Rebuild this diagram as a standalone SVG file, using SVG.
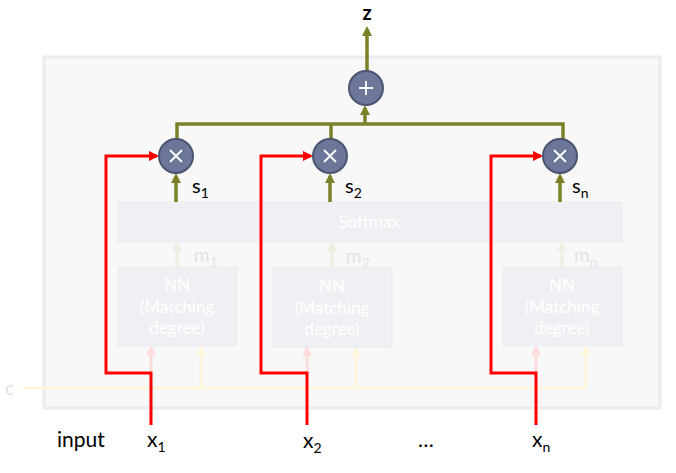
<svg xmlns="http://www.w3.org/2000/svg" width="676" height="473" viewBox="0 0 676 473">
<defs>
<style>
.t{font-family:"Lato","Open Sans","DejaVu Sans",sans-serif}
.lbl{font-size:20px;fill:#000}
.big{font-size:21px}
.sub{font-size:14px}
.faint{font-size:19px;fill:#e2e2e6}
.wt{font-size:17px;fill:#ffffff;text-anchor:middle}
.box{fill:#eff0f4;stroke:#ebecf0;stroke-width:1}
.circ{fill:#6c7799;stroke:#4b5470;stroke-width:2}
.ol{stroke:#7b8128;stroke-width:3.5;fill:none}
.red{stroke:#ff0000;stroke-width:3;fill:none}
.pink{stroke:#ffdcdc;stroke-width:3;fill:none}
.yel{stroke:#fdf5dc;stroke-width:3;fill:none}
.gy{stroke:#eeeee2;stroke-width:3;fill:none}
.sym{stroke:#ffffff;stroke-width:1.8;fill:none}
</style>
<marker id="aol" markerWidth="10" markerHeight="10" refX="7" refY="5" orient="auto" markerUnits="userSpaceOnUse"><path d="M0,0 L10,5 L0,10 z" fill="#7b8128"/></marker>
<marker id="ared" markerWidth="10" markerHeight="10" refX="8" refY="5" orient="auto" markerUnits="userSpaceOnUse"><path d="M0,0 L10,5 L0,10 z" fill="#ff0000"/></marker>
<marker id="apk" markerWidth="10" markerHeight="10" refX="7" refY="5" orient="auto" markerUnits="userSpaceOnUse"><path d="M0,0 L10,5 L0,10 z" fill="#ffdcdc"/></marker>
<marker id="ayl" markerWidth="10" markerHeight="10" refX="7" refY="5" orient="auto" markerUnits="userSpaceOnUse"><path d="M0,0 L10,5 L0,10 z" fill="#fdf5dc"/></marker>
<marker id="agy" markerWidth="10" markerHeight="10" refX="7" refY="5" orient="auto" markerUnits="userSpaceOnUse"><path d="M0,0 L10,5 L0,10 z" fill="#eeeee2"/></marker>
</defs>
<rect width="676" height="473" fill="#ffffff"/>
<g id="frame"><rect x="44" y="57" width="616" height="351" fill="#f8f8f8" stroke="#ebebf0" stroke-width="3"/></g>

<g id="softmax"><rect class="box" x="118" y="202" width="504" height="40"/><text class="t wt" x="369" y="228">Softmax</text></g>
<g id="nn1"><rect class="box" x="118" y="267" width="119" height="79"/><text class="t wt" x="177" y="291">NN</text><text class="t wt" x="177" y="313">(Matching</text><text class="t wt" x="177" y="334">degree)</text></g>
<g id="nn2"><rect class="box" x="273" y="268" width="119" height="79"/><text class="t wt" x="332" y="292">NN</text><text class="t wt" x="332" y="314">(Matching</text><text class="t wt" x="332" y="335">degree)</text></g>
<g id="nn3"><rect class="box" x="503" y="267" width="119" height="79"/><text class="t wt" x="562" y="291">NN</text><text class="t wt" x="562" y="313">(Matching</text><text class="t wt" x="562" y="334">degree)</text></g>

<g id="connectors">
<path class="yel" d="M23,388 H586"/>
<path class="yel" d="M201,388 V348" marker-end="url(#ayl)"/>
<path class="yel" d="M356,388 V349" marker-end="url(#ayl)"/>
<path class="yel" d="M586,388 V348" marker-end="url(#ayl)"/>
<path class="pink" d="M151,373 V348" marker-end="url(#apk)"/>
<path class="pink" d="M307,373 V349" marker-end="url(#apk)"/>
<path class="pink" d="M536,373 V348" marker-end="url(#apk)"/>
<path class="gy" d="M177,267 V244" marker-end="url(#agy)"/>
<path class="gy" d="M332,268 V244" marker-end="url(#agy)"/>
<path class="gy" d="M562,267 V244" marker-end="url(#agy)"/>
<path class="red" d="M151,425 V373 H106 V156 H157" marker-end="url(#ared)"/>
<path class="red" d="M307,425 V373 H261 V156 H311" marker-end="url(#ared)"/>
<path class="red" d="M536,425 V373 H491 V156 H541" marker-end="url(#ared)"/>
<path class="ol" d="M176,202 V176" marker-end="url(#aol)"/>
<path class="ol" d="M330,202 V176" marker-end="url(#aol)"/>
<path class="ol" d="M560,202 V176" marker-end="url(#aol)"/>
<path class="ol" d="M177,139 V124 H563 V139 M331,124 V139"/>
<path class="ol" d="M365,124 V108" marker-end="url(#aol)"/>
<path class="ol" d="M367,71 V29" marker-end="url(#aol)"/>
</g>

<g id="plus"><circle class="circ" cx="366" cy="88" r="17"/><path class="sym" d="M359,88 H373 M366,81 V95"/></g>
<g id="mul1"><circle class="circ" cx="176" cy="156" r="17"/><path class="sym" d="M170,150 L182,162 M182,150 L170,162"/></g>
<g id="mul2"><circle class="circ" cx="330" cy="156" r="17"/><path class="sym" d="M324,150 L336,162 M336,150 L324,162"/></g>
<g id="mul3"><circle class="circ" cx="560" cy="156" r="17"/><path class="sym" d="M554,150 L566,162 M566,150 L554,162"/></g>

<g id="labels">
<text class="t lbl" x="367" y="20" text-anchor="middle" font-weight="bold">z</text>
<text class="t lbl" x="192" y="193">s<tspan class="sub" dy="5">1</tspan></text>
<text class="t lbl" x="345" y="193">s<tspan class="sub" dy="5">2</tspan></text>
<text class="t lbl" x="572" y="193">s<tspan class="sub" dy="5">n</tspan></text>
<text class="t faint" x="194" y="262">m<tspan class="sub" dy="5">1</tspan></text>
<text class="t faint" x="346" y="263">m<tspan class="sub" dy="5">2</tspan></text>
<text class="t faint" x="574" y="262">m<tspan class="sub" dy="5">n</tspan></text>
<text class="t faint" x="5" y="395">c</text>
<text class="t lbl big" x="57" y="447">input</text>
<text class="t lbl big" x="147" y="447">x<tspan class="sub" dy="5">1</tspan></text>
<text class="t lbl big" x="303" y="448">x<tspan class="sub" dy="5">2</tspan></text>
<text class="t lbl big" x="418" y="447">…</text>
<text class="t lbl big" x="532" y="447">x<tspan class="sub" dy="5">n</tspan></text>
</g>
</svg>
